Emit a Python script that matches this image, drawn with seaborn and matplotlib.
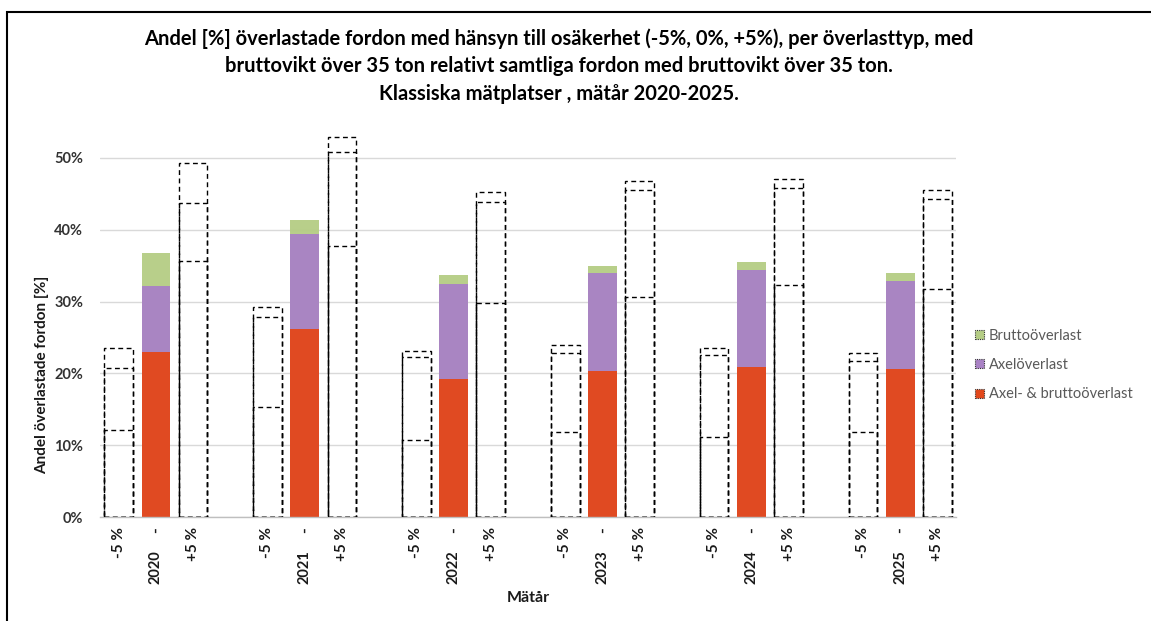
import matplotlib
matplotlib.use("Agg")
import matplotlib.pyplot as plt
from matplotlib.patches import Rectangle, Patch
from matplotlib.ticker import MultipleLocator, PercentFormatter
import seaborn as sns
import pandas as pd

# Measuring years and uncertainty variants (-5 %, measured, +5 %)
years = ["2020", "2021", "2022", "2023", "2024", "2025"]
variants = ["-5 %", "-", "+5 %"]

# Share of overloaded vehicles [%] per overload type, measured values
axel_brutto_0 = [23.0, 26.2, 19.2, 20.3, 20.9, 20.6]
axel_0 = [9.2, 13.2, 13.2, 13.7, 13.5, 12.3]
brutto_0 = [4.6, 2.0, 1.3, 1.0, 1.1, 1.1]

# With -5 % uncertainty
axel_brutto_m5 = [12.1, 15.4, 10.7, 11.8, 11.2, 11.8]
axel_m5 = [8.6, 12.5, 11.6, 11.1, 11.3, 10.0]
brutto_m5 = [2.9, 1.4, 0.8, 1.0, 1.1, 1.0]

# With +5 % uncertainty
axel_brutto_p5 = [35.7, 37.7, 29.8, 30.6, 32.3, 31.7]
axel_p5 = [8.0, 13.1, 14.0, 14.9, 13.5, 12.6]
brutto_p5 = [5.6, 2.1, 1.4, 1.3, 1.3, 1.2]

colors = {"Axel- & bruttoöverlast": "#E3481B",
          "Axelöverlast": "#A982C5",
          "Bruttoöverlast": "#B5CD85"}

values = {
    "-5 %": (axel_brutto_m5, axel_m5, brutto_m5),
    "-": (axel_brutto_0, axel_0, brutto_0),
    "+5 %": (axel_brutto_p5, axel_p5, brutto_p5),
}

# Long table with cumulative stack tops (fractions)
rows = []
for i, y in enumerate(years):
    for v in variants:
        ab, a, b = (s[i] for s in values[v])
        rows.append({"key": f"{y} {v}", "year": y, "variant": v,
                     "lvl1": ab / 100, "lvl2": (ab + a) / 100,
                     "lvl3": (ab + a + b) / 100})
df = pd.DataFrame(rows)

# Category order with an empty slot between years
order = []
for i, y in enumerate(years):
    order += [f"{y} {v}" for v in variants]
    if i < len(years) - 1:
        order.append(f"gap{i}")

sns.set_theme(style="white")
plt.rcParams["font.family"] = ["Lato", "DejaVu Sans"]

fig = plt.figure(figsize=(11.51, 6.21), dpi=100)
ax = fig.add_axes([0.0869, 0.167, 0.7437, 0.637])

measured = df[df["variant"] == "-"]
uncertain = df[df["variant"] != "-"]
bw = 0.77

# Measured values as solid stacked bars
for lvl, lab in zip(["lvl3", "lvl2", "lvl1"],
                    ["Bruttoöverlast", "Axelöverlast", "Axel- & bruttoöverlast"]):
    sns.barplot(data=measured, x="key", y=lvl, order=order, color=colors[lab],
                saturation=1, width=bw, ax=ax, linewidth=0, zorder=2, alpha=0.96)

# Uncertainty variants as dashed outlined stacks
for lvl in ["lvl1", "lvl2", "lvl3"]:
    sns.barplot(data=uncertain, x="key", y=lvl, order=order, color="black",
                fill=False, width=bw, ax=ax, linewidth=1.0,
                linestyle=(0, (3.5, 2.5)), zorder=3)

ax.set_xlim(-0.5, len(order) - 0.5)
ax.set_ylim(0, 0.55)
ax.yaxis.set_major_locator(MultipleLocator(0.10))
ax.yaxis.set_major_formatter(PercentFormatter(1.0, decimals=0))
ax.yaxis.grid(True, color="#d9d9d9", linewidth=1, zorder=0)
ax.set_axisbelow(True)
for s in ["top", "right", "left"]:
    ax.spines[s].set_visible(False)
ax.spines["bottom"].set_color("#bfbfbf")
ax.spines["bottom"].set_linewidth(1)

# Inner tick labels for the variants
tick_pos = [order.index(k) for k in df["key"]]
ax.set_xticks(tick_pos)
ax.set_xticklabels(df["variant"], rotation=90, fontweight="bold",
                   fontsize=11, color="#1a1a1a")
ax.tick_params(axis="x", length=0, pad=7)
ax.tick_params(axis="y", length=0, pad=12, labelsize=10.5, labelcolor="#333333")
for t in ax.get_yticklabels():
    t.set_fontweight("bold")

# Outer labels for the years, under the measured bar
for y in years:
    ax.text(order.index(f"{y} -"), -0.083, y, transform=ax.get_xaxis_transform(),
            rotation=90, ha="center", va="top", fontsize=10.5,
            fontweight="bold", color="#1a1a1a")

ax.set_xlabel("Mätår", fontsize=11.5, fontweight="bold", color="#1a1a1a")
ax.xaxis.set_label_coords(0.5, -0.187)
ax.set_ylabel("Andel överlastade fordon [%]", fontsize=11, fontweight="bold",
              color="#1a1a1a")
ax.yaxis.set_label_coords(-0.06, 0.36)

fig.text(0.4857, 1 - 28 / 621,
         "Andel [%] överlastade fordon med hänsyn till osäkerhet (-5%, 0%, +5%), per överlasttyp, med\n"
         "bruttovikt över 35 ton relativt samtliga fordon med bruttovikt över 35 ton.\n"
         "Klassiska mätplatser , mätår 2020-2025.",
         ha="center", va="top", fontsize=14.5, fontweight="bold",
         color="black", linespacing=1.48)

handles = [Patch(facecolor=colors[l], edgecolor="#333333", linewidth=0.8,
                 linestyle=(0, (1, 1)))
           for l in ["Bruttoöverlast", "Axelöverlast", "Axel- & bruttoöverlast"]]
fig.legend(handles, ["Bruttoöverlast", "Axelöverlast", "Axel- & bruttoöverlast"],
           loc="center left", bbox_to_anchor=(975 / 1151, 1 - 365 / 621),
           frameon=False, fontsize=10.5, labelcolor="#595959",
           handlelength=0.6, handleheight=0.6, handletextpad=0.35,
           labelspacing=1.05, borderaxespad=0, borderpad=0)

# Outer chart frame
fig.add_artist(Rectangle((7 / 1151, -0.1), 1.2, 1.1 - 12 / 621,
                         transform=fig.transFigure, fill=False,
                         edgecolor="black", linewidth=1.5))

fig.savefig("out.png", dpi=100)
